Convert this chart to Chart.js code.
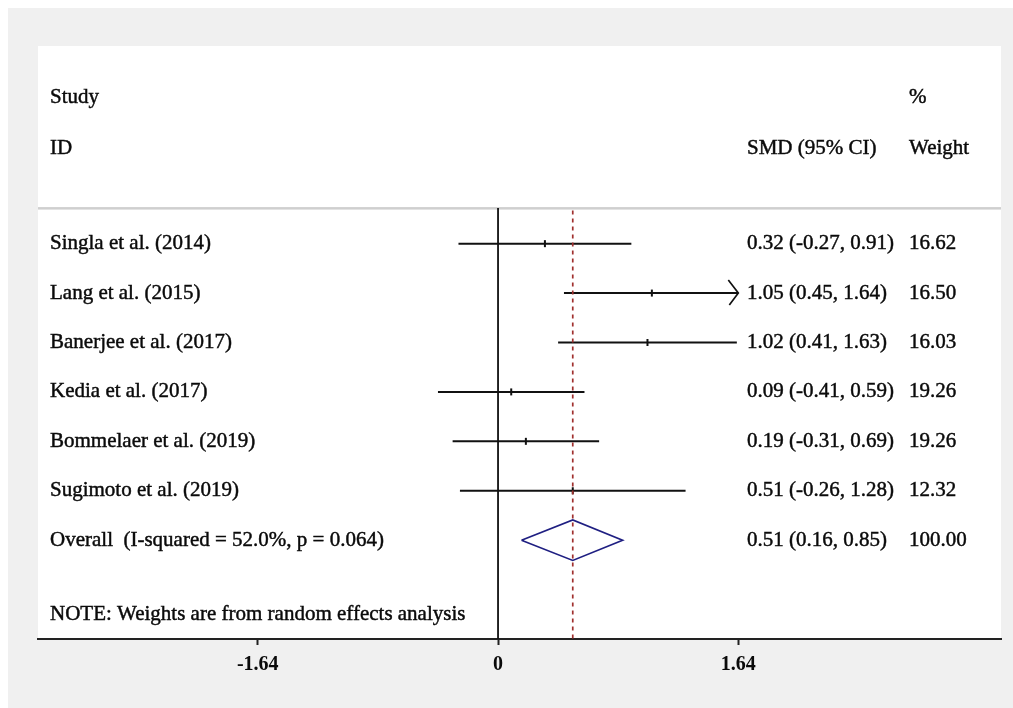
<!DOCTYPE html>
<html>
<head>
<meta charset="utf-8">
<script src="https://cdn.jsdelivr.net/npm/chart.js@4.4.1/dist/chart.umd.min.js"></script>
<style>
  html, body { margin: 0; padding: 0; background: #ffffff; }
  #wrap { width: 1013px; height: 708px; }
</style>
</head>
<body>
<div id="wrap"><canvas id="forest" width="1013" height="708"></canvas></div>
<script>
// Forest plot: SMD per study with 95% CI, random effects pooled estimate.
const studies = [
  "Singla et al. (2014)",
  "Lang et al. (2015)",
  "Banerjee et al. (2017)",
  "Kedia et al. (2017)",
  "Bommelaer et al. (2019)",
  "Sugimoto et al. (2019)",
];
const smd = [0.32, 1.05, 1.02, 0.09, 0.19, 0.51];
const ciLow = [-0.27, 0.45, 0.41, -0.41, -0.31, -0.26];
const ciHigh = [0.91, 1.64, 1.63, 0.59, 0.69, 1.28];
const weights = [16.62, 16.50, 16.03, 19.26, 19.26, 12.32];

const overallLabel = "Overall  (I-squared = 52.0%, p = 0.064)";
const overallSmd = 0.51;
const overallLow = 0.16;
const overallHigh = 0.85;
const overallWeight = 100.0;

const xTicks = [-1.64, 0, 1.64];
const clipMax = 1.64;
const noteText = "NOTE: Weights are from random effects analysis";

// row positions (y units, one per study line)
const overallRow = studies.length;
const headerRows = { study: -2.95, id: -1.93, rule: -0.72, note: 7.5 };

const FONT = "21px 'Liberation Serif', 'Times New Roman', serif";
const TEXT = "#0a0a0a";

function fmt(v) {
  return v.toFixed(2);
}

function ciText(est, lo, hi) {
  return `${fmt(est)} (${fmt(lo)}, ${fmt(hi)})`;
}

const ciDatasets = studies.map((name, i) => ({
  type: "line",
  label: name,
  data: [
    { x: ciLow[i], y: i },
    { x: Math.min(ciHigh[i], clipMax), y: i },
  ],
  borderColor: "#111",
  borderWidth: 2,
  pointRadius: 0,
}));

const diamond = {
  type: "line",
  label: "Overall",
  data: [
    { x: overallLow, y: overallRow },
    { x: overallSmd, y: overallRow - 0.41 },
    { x: overallHigh, y: overallRow },
    { x: overallSmd, y: overallRow + 0.41 },
    { x: overallLow, y: overallRow },
  ],
  borderColor: "#1f1f82",
  borderWidth: 1.7,
  pointRadius: 0,
};

const pointEst = {
  type: "scatter",
  label: "SMD",
  data: smd.map((v, i) => ({ x: v, y: i })),
  pointStyle: "line",
  rotation: 90,
  radius: 3.5,
  borderWidth: 2,
  borderColor: "#111",
  backgroundColor: "#111",
};

const zeroLine = {
  type: "line",
  label: "null",
  data: [{ x: 0, y: headerRows.rule }, { x: 0, y: 8 }],
  borderColor: "#111",
  borderWidth: 1.8,
  pointRadius: 0,
};

const overallLine = {
  type: "line",
  label: "overall",
  data: [{ x: overallSmd, y: headerRows.rule + 0.05 }, { x: overallSmd, y: 8 }],
  borderColor: "#a0302e",
  borderWidth: 1.7,
  borderDash: [4, 4],
  pointRadius: 0,
};

function heavyText(ctx, str, px, py) {
  ctx.strokeText(str, px, py);
  ctx.fillText(str, px, py);
}

const panelPlugin = {
  id: "panel",
  beforeDraw(chart) {
    const { ctx, chartArea, width, height, scales } = chart;
    ctx.save();
    ctx.fillStyle = "#ffffff";
    ctx.fillRect(0, 0, width, height);
    ctx.fillStyle = "#f0f0f0";
    ctx.fillRect(8, 8, width - 8, height - 8);
    ctx.fillStyle = "#ffffff";
    ctx.fillRect(chartArea.left, chartArea.top, chartArea.right - chartArea.left, chartArea.bottom - chartArea.top);
    // header rule
    const ry = scales.y.getPixelForValue(headerRows.rule);
    ctx.fillStyle = "#cfcfcf";
    ctx.fillRect(chartArea.left, ry - 1, chartArea.right - chartArea.left, 2.5);
    ctx.restore();
  },
  afterDraw(chart) {
    const { ctx, chartArea, scales } = chart;
    const x = scales.x;
    const y = scales.y;
    const colName = chartArea.left + 12;
    const colCi = chartArea.left + 709;
    const colW = chartArea.left + 871;

    ctx.save();
    // arrows for clipped intervals
    ctx.strokeStyle = "#111";
    ctx.lineWidth = 1.7;
    ciHigh.forEach((hi, i) => {
      if (hi < clipMax) return;
      const px = x.getPixelForValue(clipMax);
      const py = y.getPixelForValue(i);
      ctx.beginPath();
      ctx.moveTo(px - 10, py - 13);
      ctx.lineTo(px, py);
      ctx.lineTo(px - 9, py + 12);
      ctx.stroke();
    });

    ctx.font = FONT;
    ctx.fillStyle = TEXT;
    ctx.strokeStyle = TEXT;
    ctx.lineWidth = 0.45;
    ctx.textBaseline = "middle";
    ctx.textAlign = "left";

    heavyText(ctx, "Study", colName, y.getPixelForValue(headerRows.study));
    heavyText(ctx, "ID", colName, y.getPixelForValue(headerRows.id));
    heavyText(ctx, "%", colW, y.getPixelForValue(headerRows.study));
    heavyText(ctx, "SMD (95% CI)", colCi, y.getPixelForValue(headerRows.id));
    heavyText(ctx, "Weight", colW, y.getPixelForValue(headerRows.id));

    studies.forEach((name, i) => {
      const py = y.getPixelForValue(i);
      heavyText(ctx, name, colName, py);
      heavyText(ctx, ciText(smd[i], ciLow[i], ciHigh[i]), colCi, py);
      heavyText(ctx, fmt(weights[i]), colW, py);
    });

    const oy = y.getPixelForValue(overallRow);
    heavyText(ctx, overallLabel, colName, oy);
    heavyText(ctx, ciText(overallSmd, overallLow, overallHigh), colCi, oy);
    heavyText(ctx, fmt(overallWeight), colW, oy);

    heavyText(ctx, noteText, colName, y.getPixelForValue(headerRows.note));
    ctx.restore();
  },
};

new Chart(document.getElementById("forest"), {
  type: "scatter",
  data: {
    datasets: [zeroLine, overallLine, ...ciDatasets, pointEst, diamond],
  },
  options: {
    responsive: false,
    animation: false,
    layout: { padding: { left: 38, top: 46, right: 12, bottom: 0 } },
    plugins: {
      legend: { display: false },
      tooltip: { enabled: false },
    },
    scales: {
      x: {
        type: "linear",
        min: -3.14,
        max: 3.433,
        afterBuildTicks(scale) {
          scale.ticks = xTicks.map((v) => ({ value: v }));
        },
        afterFit(scale) {
          scale.height = 69;
        },
        ticks: {
          color: TEXT,
          padding: 8,
          maxRotation: 0,
          font: { family: "'Liberation Serif', 'Times New Roman', serif", size: 20, weight: "bold" },
          callback(value) {
            return value === 0 ? "0" : value.toFixed(2);
          },
        },
        grid: {
          drawOnChartArea: false,
          drawTicks: true,
          tickLength: 6,
          tickWidth: 2,
          tickColor: "#222",
        },
        border: { color: "#222", width: 2 },
      },
      y: {
        type: "linear",
        display: false,
        reverse: true,
        min: -4,
        max: 8,
      },
    },
  },
  plugins: [panelPlugin],
});
</script>
</body>
</html>
